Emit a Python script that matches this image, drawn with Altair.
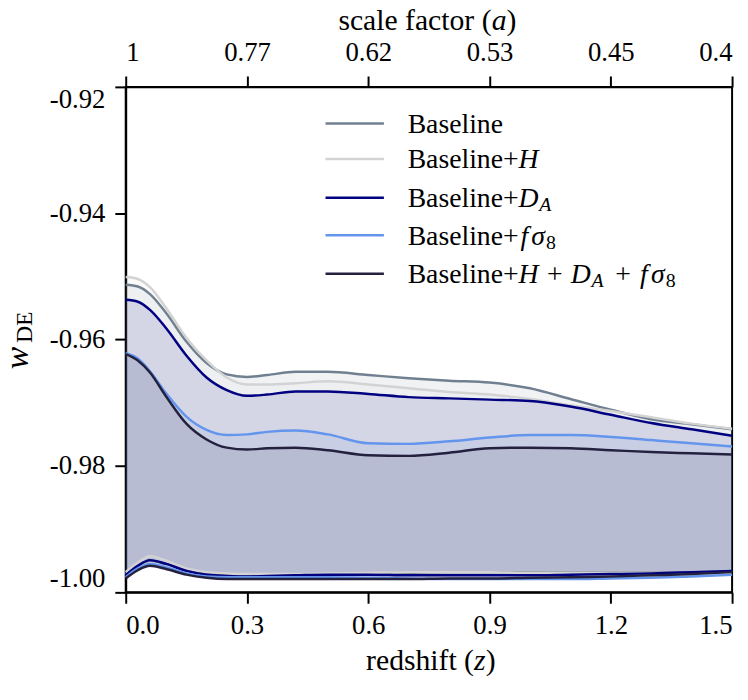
import altair as alt
import pandas as pd

# ---------------- data ----------------
z = [0, 0.03, 0.06, 0.1, 0.15, 0.2, 0.25, 0.3, 0.35, 0.42, 0.5,
     0.6, 0.7, 0.8, 0.9, 1.0, 1.1, 1.2, 1.3, 1.4, 1.5]

series_names = ["Baseline", "Baseline+H", "Baseline+D_A", "Baseline+fs8", "Baseline+H+D_A+fs8"]
series_colors = ["#708090", "#d3d3d3", "#000080", "#6495ed", "#24213f"]

upper_baseline = [-0.9513, -0.9516, -0.9528, -0.9558, -0.9603, -0.9637, -0.9655, -0.9659, -0.9656, -0.9651, -0.9651,
                  -0.9656, -0.9661, -0.9665, -0.9668, -0.9677, -0.9694, -0.9711, -0.9726, -0.9734, -0.9742]
upper_h = [-0.9501, -0.9504, -0.9517, -0.9550, -0.9597, -0.9633, -0.9660, -0.9671, -0.9671, -0.9669, -0.9666,
           -0.9671, -0.9677, -0.9683, -0.9687, -0.9694, -0.9704, -0.9713, -0.9723, -0.9733, -0.9741]
upper_da = [-0.9537, -0.9540, -0.9553, -0.9582, -0.9625, -0.9660, -0.9680, -0.9689, -0.9687, -0.9682, -0.9682,
            -0.9686, -0.9691, -0.9693, -0.9695, -0.9697, -0.9706, -0.9719, -0.9732, -0.9742, -0.9752]
upper_fs8 = [-0.9621, -0.9630, -0.9650, -0.9685, -0.9722, -0.9743, -0.9751, -0.9750, -0.9746, -0.9744, -0.9750,
             -0.9764, -0.9765, -0.9761, -0.9755, -0.9751, -0.9751, -0.9754, -0.9759, -0.9764, -0.9769]
upper_all = [-0.9623, -0.9633, -0.9652, -0.9690, -0.9733, -0.9758, -0.9771, -0.9774, -0.9772, -0.9771, -0.9775,
             -0.9783, -0.9784, -0.9779, -0.9772, -0.9771, -0.9772, -0.9775, -0.9778, -0.9780, -0.9782]

lower_baseline = [-0.9971, -0.9958, -0.9950, -0.9955, -0.9965, -0.9970, -0.9972, -0.9973, -0.9973, -0.9973, -0.9972,
                  -0.9970, -0.9969, -0.9968, -0.9968, -0.9968, -0.9968, -0.9968, -0.9968, -0.9968, -0.9967]
lower_h = [-0.9968, -0.9953, -0.9943, -0.9950, -0.9962, -0.9968, -0.9970, -0.9971, -0.9971, -0.9971, -0.9970,
           -0.9969, -0.9968, -0.9968, -0.9968, -0.9969, -0.9969, -0.9969, -0.9969, -0.9968, -0.9967]
lower_da = [-0.9973, -0.9958, -0.9949, -0.9955, -0.9966, -0.9972, -0.9974, -0.9975, -0.9974, -0.9973, -0.9972,
            -0.9972, -0.9973, -0.9973, -0.9973, -0.9973, -0.9972, -0.9971, -0.9970, -0.9968, -0.9966]
lower_fs8 = [-0.9976, -0.9962, -0.9955, -0.9960, -0.9970, -0.9975, -0.9976, -0.9976, -0.9976, -0.9976, -0.9976,
             -0.9977, -0.9978, -0.9979, -0.9979, -0.9979, -0.9979, -0.9978, -0.9977, -0.9975, -0.9972]
lower_all = [-0.9978, -0.9965, -0.9958, -0.9963, -0.9972, -0.9977, -0.9979, -0.9979, -0.9979, -0.9979, -0.9979,
             -0.9979, -0.9979, -0.9978, -0.9978, -0.9977, -0.9976, -0.9975, -0.9973, -0.9971, -0.9968]

z_ticks = [0.0, 0.3, 0.6, 0.9, 1.2, 1.5]
a_labels = ["1", "0.77", "0.62", "0.53", "0.45", "0.4"]
y_ticks = [-1.00, -0.98, -0.96, -0.94, -0.92]

# ---------------- build table ----------------
uppers = [upper_baseline, upper_h, upper_da, upper_fs8, upper_all]
lowers = [lower_baseline, lower_h, lower_da, lower_fs8, lower_all]
rows = []
for name, up, lo in zip(series_names, uppers, lowers):
    for zi, u, l in zip(z, up, lo):
        rows.append({"series": name, "z": zi, "upper": u, "lower": l})
df = pd.DataFrame(rows)

FONT = "Liberation Serif"

a_expr = "'" + a_labels[-1] + "'"
for zt, lab in reversed(list(zip(z_ticks[:-1], a_labels[:-1]))):
    a_expr = f"abs(datum.value - {zt}) < 0.01 ? '{lab}' : ({a_expr})"

axis_common = dict(labelFont=FONT, labelFontSize=27, labelColor="black",
                   tickColor="black", tickWidth=2, tickSize=11,
                   domainColor="black", domainWidth=2, grid=False,
                   labelPadding=10, labelFlush=True, title=None)

bottom_axis = alt.Axis(orient="bottom", values=z_ticks, format=".1f", **axis_common)
top_axis = alt.Axis(orient="top", values=z_ticks, labelExpr=a_expr, **axis_common)
y_axis = alt.Axis(values=y_ticks,
                  labelExpr="replace(format(datum.value, '.2f'), '\u2212', '-')",
                  **axis_common)

xscale = alt.Scale(domain=[0, 1.5], nice=False, zero=False)
yscale = alt.Scale(domain=[-1.0, -0.92], nice=False, zero=False)
color = alt.Color("series:N", scale=alt.Scale(domain=series_names, range=series_colors), legend=None)

bands = alt.Chart(df).mark_area(opacity=0.1, interpolate="monotone").encode(
    x=alt.X("z:Q", scale=xscale, axis=bottom_axis),
    y=alt.Y("lower:Q", scale=yscale, axis=y_axis),
    y2="upper:Q",
    color=color,
)

lines = alt.Chart(df).transform_fold(
    ["upper", "lower"], as_=["bound", "w"]
).mark_line(strokeWidth=2.5, interpolate="monotone").encode(
    x=alt.X("z:Q", scale=xscale, axis=top_axis),
    y=alt.Y("w:Q", scale=yscale, axis=y_axis),
    color=color,
    detail="bound:N",
)

one = pd.DataFrame({"k": [0]})


def txt(s, x, y, size=28, italic=False, angle=0, align="left"):
    kw = dict(text=s, font=FONT, fontSize=size, align=align, baseline="alphabetic")
    if italic:
        kw["fontStyle"] = "italic"
    if angle:
        kw["angle"] = angle
    return alt.Chart(one).mark_text(**kw).encode(x=alt.value(x), y=alt.value(y))


extra = []
# legend
row_y = [37, 73, 112, 150, 189]
row_parts = [
    [("Baseline", 285, 28, False, 0)],
    [("Baseline+", 285, 28, False, 0), ("H", 397, 28, True, 0)],
    [("Baseline+", 285, 28, False, 0), ("D", 397, 28, True, 0), ("A", 418, 20, True, 4)],
    [("Baseline+", 285, 28, False, 0), ("f", 399, 28, True, 0), ("σ", 410, 28, True, 0), ("8", 425, 20, False, 4)],
    [("Baseline+", 285, 28, False, 0), ("H", 397, 28, True, 0), ("+", 426, 28, False, 0),
     ("D", 450, 28, True, 0), ("A", 471, 20, True, 4), ("+", 495, 28, False, 0),
     ("f", 520, 28, True, 0), ("σ", 531, 28, True, 0), ("8", 546, 20, False, 4)],
]
for ry, col, parts in zip(row_y, series_colors, row_parts):
    extra.append(alt.Chart(one).mark_rule(strokeWidth=2.5, color=col).encode(
        x=alt.value(202), x2=alt.value(261), y=alt.value(ry)))
    for s, x, size, it, dy in parts:
        extra.append(txt(s, x, ry + 9.5 + dy, size=size, italic=it))

# axis titles
extra += [
    txt("scale factor (", 215, -58, size=30),
    txt("a", 370, -58, size=30, italic=True),
    txt(")", 385, -58, size=30),
    txt("redshift (", 243, 590, size=30),
    txt("z", 352, 590, size=30, italic=True),
    txt(")", 364, 590, size=30),
    txt("w", -99, 274, size=34, italic=True, angle=270, align="center"),
    txt("DE", -95, 243, size=24, angle=270, align="center"),
]

chart = alt.layer(bands, lines, *extra).resolve_axis(x="independent").properties(
    width=613, height=511,
    autosize=alt.AutoSizeParams(type="none"),
    padding={"left": 119, "top": 76, "right": 8, "bottom": 97},
).configure_view(stroke="black", strokeWidth=2)

chart.save("out.html", embed_options={"renderer": "svg", "actions": False})
